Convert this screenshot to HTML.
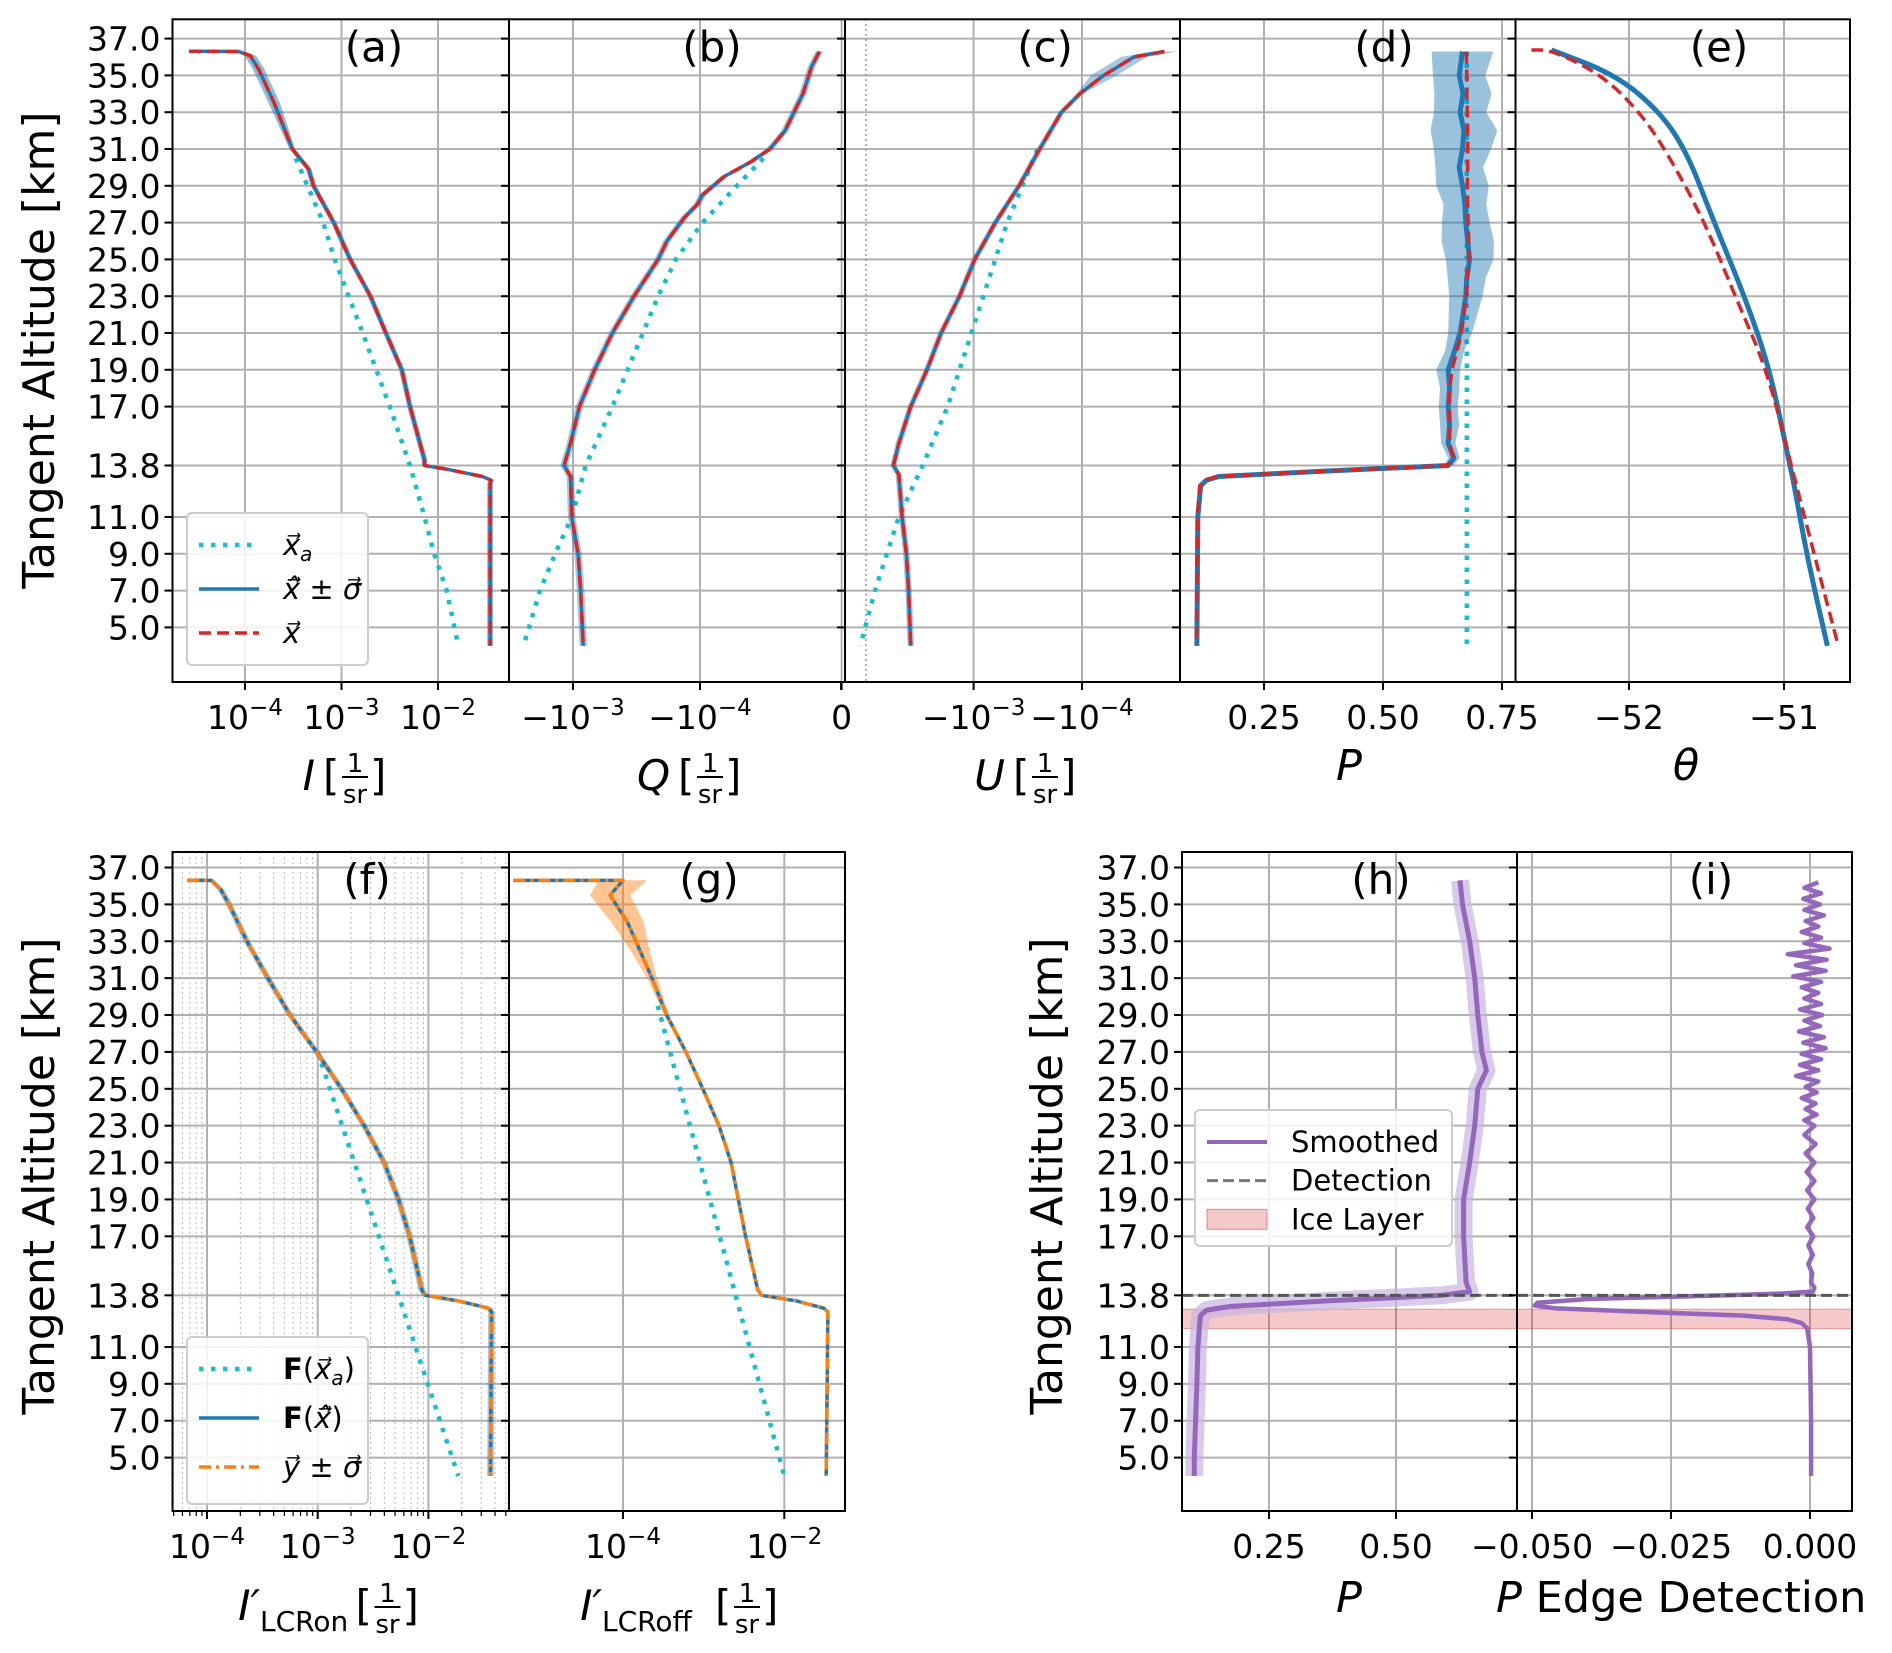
<!DOCTYPE html>
<html><head><meta charset="utf-8">
<style>
html,body{margin:0;padding:0;background:#fff;}
svg{display:block;font-family:"DejaVu Sans","Liberation Sans",sans-serif;}
</style></head>
<body>
<svg id="fig" width="1892" height="1653" viewBox="0 0 1892 1653" xmlns="http://www.w3.org/2000/svg"></svg>
<script>
// ---------- DATA ----------
const altTicks=[37,35,33,31,29,27,25,23,21,19,17,13.8,11,9,7,5];
// (a) log10 I
const aAlt=[36.31,36.3,36.07,35.35,33.54,31.0,29.9,29,27,25,23,21,19,17,14.1,13.8,13.6,13.2,13.0,12.8,4];
const aFit=[-4.58,-4.065,-3.945,-3.86,-3.70,-3.51,-3.34,-3.29,-3.08,-2.91,-2.70,-2.54,-2.375,-2.29,-2.14,-2.14,-1.91,-1.54,-1.45,-1.46,-1.46];
const aPriorAlt=[30.5,27,25,21,17,13.8,11,9,7,4];
const aPrior=[-3.475,-3.19,-3.07,-2.78,-2.50,-2.29,-2.14,-2.04,-1.91,-1.79];
// (b) log10 |Q| (Q negative)
const bAlt=[36.3,35.5,34,32,31,30.3,29.5,28.5,28,27.3,26,25,23,21,19,17,15,13.8,13.2,11,9,7,4];
const bFit=[-4.94,-4.88,-4.81,-4.67,-4.55,-4.40,-4.19,-4.02,-3.98,-3.88,-3.74,-3.67,-3.48,-3.31,-3.17,-3.05,-2.98,-2.93,-2.98,-2.99,-3.04,-3.06,-3.08];
const bPriorAlt=[30.5,29,27,25,23,21,19,17,13.8,11,9,7,4];
const bPrior=[-4.50,-4.29,-4.02,-3.81,-3.67,-3.55,-3.43,-3.31,-3.10,-2.99,-2.86,-2.74,-2.61];
// (c) log10 |U|
const cAlt=[36.3,36,35,34,33,31,29,27,25,23,21,19,17,15,13.8,13.3,11,9,7,4];
const cFit=[-4.76,-4.48,-4.20,-3.98,-3.81,-3.61,-3.42,-3.20,-3.01,-2.87,-2.70,-2.57,-2.42,-2.31,-2.26,-2.31,-2.34,-2.38,-2.40,-2.42];
const cPriorAlt=[31,27,25,21,17,13.8,11,9,7,4];
const cPrior=[-3.59,-3.31,-3.20,-2.98,-2.76,-2.53,-2.31,-2.20,-2.09,-1.955];
// (d) P
const dAlt=[36.3,35,34,33,32,31,30,29,28,27,26,25,24,23,22,21,20,19,18,17,16,15,14.2,13.8,13.5,13.2,13.0,12.7,11,4];
const dFit=[0.667,0.66,0.668,0.662,0.67,0.667,0.66,0.667,0.672,0.674,0.678,0.682,0.676,0.674,0.668,0.662,0.65,0.637,0.64,0.637,0.64,0.637,0.649,0.637,0.383,0.155,0.129,0.117,0.111,0.109];
const dRetr=[0.675,0.676,0.676,0.677,0.678,0.678,0.678,0.677,0.678,0.679,0.68,0.68,0.678,0.675,0.67,0.665,0.655,0.645,0.64,0.64,0.64,0.64,0.648,0.635,0.38,0.15,0.127,0.115,0.11,0.108];
const dErr=[0.065,0.055,0.06,0.055,0.07,0.06,0.05,0.055,0.045,0.05,0.055,0.05,0.04,0.035,0.03,0.025,0.02,0.025,0.02,0.02,0.02,0.015,0.012,0.01,0.005,0.003,0.002,0.002,0.002,0.002];
const dPrior=[0.676,0.676];
const dPriorAlt=[36.3,4];
// (e) theta
const eAlt=[36.38,35.05,33.1,30.9,27.0,22.9,19.0,13.7,13.0,8.8,4.0];
const eFit=[-52.50,-52.09,-51.81,-51.63,-51.45,-51.25,-51.09,-50.96,-50.94,-50.85,-50.72];
const eRetrAlt=[36.38,36.38,35.05,33.1,30.9,27.0,22.9,19.0,13.7,8.8,4.0];
const eRetr=[-52.63,-52.50,-52.18,-51.94,-51.76,-51.51,-51.31,-51.11,-50.95,-50.80,-50.65];
// (f) log10 I'_LCRon
const fAlt=[36.3,36.3,35.8,35,33,31,29,27,25,23,21,19,17,14.1,13.8,13.5,13.1,12.9,4];
const fFit=[-4.18,-3.96,-3.875,-3.80,-3.64,-3.45,-3.25,-3.01,-2.785,-2.58,-2.40,-2.27,-2.17,-2.06,-2.03,-1.73,-1.455,-1.43,-1.44];
const fPriorAlt=[27,4];
const fPrior=[-3.0,-1.73];
// (g) log10 I'_LCRoff
const gAlt=[36.3,36.3,35.5,34,32.5,31,29,27,25,23,21,19,17,14.1,13.8,13.5,13.1,12.9,4];
const gFit=[-5.36,-4.0,-4.16,-3.94,-3.79,-3.64,-3.46,-3.22,-3.01,-2.81,-2.66,-2.57,-2.48,-2.33,-2.28,-1.85,-1.51,-1.46,-1.48];
const gNoise=[0.0,0.3,0.25,0.2,0.12,0.06,0.03,0.02,0.02,0.02,0.02,0.02,0.02,0.02,0.02,0.02,0.02,0.02,0.02];
const gPriorAlt=[29.5,4];
const gPrior=[-3.57,-2.0];
// (h) P smoothed
const hAlt=[36.3,35,33,31,29,27,26,25,23,21,19,17,14.5,14.0,13.8,13.5,13.2,13.0,12.7,11,9,5,4];
const hVal=[0.626,0.631,0.645,0.655,0.661,0.669,0.678,0.661,0.655,0.645,0.633,0.633,0.638,0.645,0.590,0.365,0.175,0.127,0.115,0.110,0.108,0.103,0.103];
// (i) edge detection
const iNoiseAlt=[36.2,35.9,35.6,35.3,35.0,34.7,34.4,34.1,33.8,33.5,33.2,32.9,32.6,32.3,32.0,31.7,31.4,31.1,30.8,30.5,30.2,29.9,29.6,29.3,29.0,28.7,28.4,28.1,27.8,27.5,27.2,26.9,26.6,26.3,26.0,25.7,25.4,25.1,24.8,24.5,24.2,23.9,23.6,23.3,23.0,22.5,22.0,21.5,21.0,20.5,20.0,19.5,19.0,18.5,18.0,17.5,17.0,16.5,16.0,15.5,15.0,14.5];
const iNoiseVal=[1.5,-1,2,-1.2,1.8,-1,2.5,-0.8,1.5,-1.5,2,-1,3.5,-4,3,-2.5,2.8,-3,2,-1.5,1.5,-1,2,-1.8,2.2,-1,1.8,-2,2.5,-1.2,2.8,-1.5,2,-1.8,1.5,-2.5,1.5,-0.8,1.2,-1.5,1,-0.8,1.2,-1,0.8,-1,1,-0.8,0.8,-0.6,0.8,-0.5,0.8,-0.4,0.6,-0.5,0.6,-0.3,0.5,-0.3,0.4,0.2];
const iEdgeAlt=[14.2,14.0,13.9,13.8,13.6,13.4,13.25,13.1,12.9,12.7,12.5,12.3,12.0,11,7,4];
const iEdgeVal=[0.0008,0.0005,-0.005,-0.015,-0.04,-0.049,-0.0495,-0.046,-0.03,-0.012,-0.004,-0.0015,-0.0005,0,0.0002,0.0002];
const detectionAlt=13.8;
const iceLayer=[12.0,13.05];

// ---------- HELPERS ----------
const NS="http://www.w3.org/2000/svg";
const svg=document.getElementById('fig');
function el(tag,attrs,parent){const e=document.createElementNS(NS,tag);for(const k in attrs)e.setAttribute(k,attrs[k]);(parent||svg).appendChild(e);return e;}
const rows={top:{y37:38.6,y5:627.4,t:19.3,b:682},bot:{y37:867.5,y5:1457.6,t:852,b:1511}};
function yS(row,a){const r=rows[row];return r.y5-(a-5)*(r.y5-r.y37)/32;}
const C={blue:'#1f77b4',red:'#d62728',cyan:'#17becf',orange:'#ff7f0e',purple:'#9467bd',grid:'#b0b0b0'};
const TF=33;

function makePanel(p){
  const r=rows[p.row];
  const g=el('g',{});
  
  
  const clipId='clip-'+p.id;
  const cp=el('clipPath',{id:clipId},g);el('rect',{x:p.x0,y:r.t,width:p.x1-p.x0,height:r.b-r.t},cp);
  (p.minor||[]).forEach(v=>{const X=p.xm(v);if(X>p.x0&&X<p.x1){const l=el('line',{x1:X,x2:X,y1:r.t,y2:r.b,stroke:'#b8b8b8','stroke-width':1,'stroke-dasharray':'2,3'},g);}});
  altTicks.forEach(a=>{const y=yS(p.row,a);const l=el('line',{x1:p.x0,x2:p.x1,y1:y,y2:y,stroke:C.grid,'stroke-width':2},g);});
  p.ticks.forEach(t=>{const X=p.xm(t.v);if(X>=p.x0-1&&X<=p.x1+1){const l=el('line',{x1:X,x2:X,y1:r.t,y2:r.b,stroke:C.grid,'stroke-width':2},g);}});
  const plot=el('g',{'clip-path':'url(#'+clipId+')'},g);
  p.draw(plot,(a)=>yS(p.row,a));
  const fr=el('rect',{x:p.x0,y:r.t,width:p.x1-p.x0,height:r.b-r.t,fill:'none',stroke:'#000','stroke-width':2},g);
  
  altTicks.forEach(a=>{const y=yS(p.row,a);el('line',{x1:p.x0-8,x2:p.x0,y1:y,y2:y,stroke:'#000','stroke-width':2},g);
    if(p.ylabels){const t=el('text',{x:p.x0-12,y:y+12,'text-anchor':'end','font-size':TF,fill:'#000'},g);t.textContent=a.toFixed(1);}});
  const ty=r.b+47;
  p.ticks.forEach(t=>{const X=p.xm(t.v);el('line',{x1:X,x2:X,y1:r.b,y2:r.b+8,stroke:'#000','stroke-width':2},g);
    const tx=el('text',{x:X+(t.dx||0),y:ty,'text-anchor':'middle','font-size':TF,fill:'#000'},g);
    
    tx.textContent=t.base;
    if(t.sup){const s=el('tspan',{dy:-14,'font-size':23},tx);s.textContent=t.sup;}
  });
  (p.minorTicks||[]).forEach(v=>{const X=p.xm(v);if(X>p.x0&&X<p.x1)el('line',{x1:X,x2:X,y1:r.b,y2:r.b+5,stroke:'#000','stroke-width':1.2},g);});
  const pl=el('text',{x:p.lx,y:r.t+42,'text-anchor':'middle','font-size':42,fill:'#000'},g);pl.textContent='('+p.id+')';
  
  return g;
}
function path(parent,xs,ys,attrs,name){let d='';for(let i=0;i<xs.length;i++)d+=(i?'L':'M')+xs[i].toFixed(1)+','+ys[i].toFixed(1);const e=el('path',Object.assign({d:d,fill:'none','stroke-linejoin':'round'},attrs),parent);return e;}
function line(parent,alts,vals,xm,ym,attrs,name){return path(parent,vals.map(xm),alts.map(ym),attrs,name);}
function band(parent,alts,lo,hi,xm,ym,attrs,name){let d='';for(let i=0;i<alts.length;i++)d+=(i?'L':'M')+xm(lo[i]).toFixed(1)+','+ym(alts[i]).toFixed(1);for(let i=alts.length-1;i>=0;i--)d+='L'+xm(hi[i]).toFixed(1)+','+ym(alts[i]).toFixed(1);d+='Z';const e=el('path',Object.assign({d:d},attrs),parent);return e;}
const DOT={stroke:C.cyan,'stroke-width':4.5,'stroke-dasharray':'4.5,7.5'};
const SOL={stroke:C.blue,'stroke-width':3.5};
const DASH={stroke:C.red,'stroke-width':3.5,'stroke-dasharray':'12,6'};
const DD={stroke:C.orange,'stroke-width':3.5,'stroke-dasharray':'12,5,3,5'};
function logTicks(list){return list.map(e=>({v:e,base:'10',sup:'−'+(-e)}));}

// ---------- PANELS ----------
const xa=e=>245+(e+4)*96.5;
makePanel({id:'a',row:'top',x0:172.5,x1:509,lx:374,ylabels:true,xm:xa,ticks:logTicks([-4,-3,-2]),
 draw:(g,ym)=>{line(g,aPriorAlt,aPrior,xa,ym,DOT,'prior-line');
  band(g,aAlt,aFit.map((v,i)=>v-(aAlt[i]>33?0.06:0.03)),aFit.map((v,i)=>v+(aAlt[i]>33?0.06:0.03)),xa,ym,{fill:C.blue,opacity:0.5},'error-band');
  line(g,aAlt,aFit,xa,ym,SOL,'retrieved-line');line(g,aAlt,aFit,xa,ym,DASH,'true-line');}});
const xb=e=>573+(-3-e)*127;
makePanel({id:'b',row:'top',x0:509,x1:845,lx:712,xm:xb,
 ticks:[{v:-3,base:'−10',sup:'−3'},{v:-4,base:'−10',sup:'−4'},{v:-5.115,base:'0',dx:0}],
 draw:(g,ym)=>{line(g,bPriorAlt,bPrior,xb,ym,DOT,'prior-line');
  band(g,bAlt,bFit.map(v=>v-0.03),bFit.map(v=>v+0.03),xb,ym,{fill:C.blue,opacity:0.4},'error-band');
  line(g,bAlt,bFit,xb,ym,SOL,'retrieved-line');line(g,bAlt,bFit,xb,ym,DASH,'true-line');}});
const xc=e=>973.6+(-3-e)*108.4;
makePanel({id:'c',row:'top',x0:845,x1:1180,lx:1045,xm:xc,
 ticks:[{v:-3,base:'−10',sup:'−3'},{v:-4,base:'−10',sup:'−4'}],
 draw:(g,ym)=>{const z=el('line',{x1:866,x2:866,y1:19,y2:682,stroke:'#999','stroke-width':1.5,'stroke-dasharray':'2,3'},g);
  line(g,cPriorAlt,cPrior,xc,ym,DOT,'prior-line');
  band(g,cAlt,cFit.map((v,i)=>v-(cAlt[i]>34?0.12:0.03)),cFit.map((v,i)=>v+(cAlt[i]>34?0.12:0.03)),xc,ym,{fill:C.blue,opacity:0.4},'error-band');
  line(g,cAlt,cFit,xc,ym,SOL,'retrieved-line');line(g,cAlt,cFit,xc,ym,DASH,'true-line');}});
el('line',{x1:841,x2:841,y1:682,y2:690,stroke:'#000','stroke-width':2});
const xd=p=>1264+(p-0.25)*476;
makePanel({id:'d',row:'top',x0:1180,x1:1515.5,lx:1384,xm:xd,
 ticks:[{v:0.25,base:'0.25'},{v:0.5,base:'0.50'},{v:0.75,base:'0.75'}],
 draw:(g,ym)=>{line(g,dPriorAlt,dPrior,xd,ym,DOT,'prior-line');
  band(g,dAlt,dFit.map((v,i)=>v-dErr[i]),dFit.map((v,i)=>v+dErr[i]),xd,ym,{fill:C.blue,opacity:0.45},'error-band');
  line(g,dAlt,dFit,xd,ym,{stroke:C.blue,'stroke-width':5},'retrieved-line');line(g,dAlt,dRetr,xd,ym,DASH,'true-line');}});
const xe=t=>1629+(t+52)*155;
makePanel({id:'e',row:'top',x0:1515.5,x1:1850,lx:1719,xm:xe,
 ticks:[{v:-52,base:'−52'},{v:-51,base:'−51'}],
 draw:(g,ym)=>{
  const sm=(alts,vals)=>{const xs=vals.map(xe),ys=alts.map(ym);let d='M'+xs[0]+','+ys[0];for(let i=1;i<xs.length;i++){const mx=(xs[i-1]+xs[i])/2,my=(ys[i-1]+ys[i])/2;d+='Q'+xs[i-1]+','+ys[i-1]+' '+mx+','+my;}d+='L'+xs[xs.length-1]+','+ys[ys.length-1];return d;};
  const b=el('path',{d:sm(eAlt,eFit),fill:'none',stroke:C.blue,'stroke-width':5},g);
  const rr=el('path',Object.assign({d:sm(eRetrAlt,eRetr),fill:'none'},DASH),g);}});

const xf=e=>207+(e+4)*110.7;
const fMinor=[];for(let d=-5;d<=-1;d++)for(let k=2;k<=9;k++)fMinor.push(d+Math.log10(k));
makePanel({id:'f',row:'bot',x0:172.5,x1:509,lx:367,ylabels:true,xm:xf,minor:fMinor,minorTicks:fMinor,ticks:logTicks([-4,-3,-2]),
 draw:(g,ym)=>{line(g,fPriorAlt,fPrior,xf,ym,DOT,'prior-line');
  band(g,fAlt,fFit.map(v=>v-0.03),fFit.map(v=>v+0.03),xf,ym,{fill:C.blue,opacity:0.4},'error-band');
  line(g,fAlt,fFit,xf,ym,SOL,'forward-line');line(g,fAlt,fFit,xf,ym,DD,'measurement-line');}});
const xg=e=>623+(e+4)*80.65;
makePanel({id:'g',row:'bot',x0:509,x1:845,lx:709,xm:xg,ticks:logTicks([-4,-2]),
 draw:(g,ym)=>{line(g,gPriorAlt,gPrior,xg,ym,DOT,'prior-line');
  band(g,gAlt,gFit.map((v,i)=>v-gNoise[i]),gFit.map((v,i)=>v+gNoise[i]),xg,ym,{fill:C.orange,opacity:0.45},'error-band');
  line(g,gAlt,gFit,xg,ym,SOL,'forward-line');line(g,gAlt,gFit,xg,ym,DD,'measurement-line');}});
const xh=p=>1269+(p-0.25)*508;
makePanel({id:'h',row:'bot',x0:1182,x1:1517,lx:1381,ylabels:true,xm:xh,ticks:[{v:0.25,base:'0.25'},{v:0.5,base:'0.50'}],
 draw:(g,ym)=>{
  const ice=el('rect',{x:1182,y:ym(iceLayer[1]),width:335,height:ym(iceLayer[0])-ym(iceLayer[1]),fill:'rgba(214,39,40,0.25)',stroke:'rgba(214,39,40,0.4)'},g);
  line(g,hAlt,hVal,xh,ym,{stroke:'#c7b3e0','stroke-width':18,opacity:0.7},'raw-scatter');
  line(g,hAlt,hVal,xh,ym,{stroke:C.purple,'stroke-width':5},'smoothed-line');
  const dl=el('line',{x1:1182,x2:1517,y1:ym(detectionAlt),y2:ym(detectionAlt),stroke:'#555','stroke-width':3,'stroke-dasharray':'11,5'},g);}});
const xi=v=>1810+v*5560;
makePanel({id:'i',row:'bot',x0:1517,x1:1852,lx:1711,xm:xi,ticks:[{v:-0.05,base:'−0.050'},{v:-0.025,base:'−0.025'},{v:0,base:'0.000'}],
 draw:(g,ym)=>{
  const ice=el('rect',{x:1517,y:ym(iceLayer[1]),width:335,height:ym(iceLayer[0])-ym(iceLayer[1]),fill:'rgba(214,39,40,0.25)',stroke:'rgba(214,39,40,0.4)'},g);
  line(g,iNoiseAlt.concat(iEdgeAlt),iNoiseVal.map(v=>v*0.001).concat(iEdgeVal),xi,ym,{stroke:C.purple,'stroke-width':4.5},'edge-line');
  const dl=el('line',{x1:1517,x2:1852,y1:ym(detectionAlt),y2:ym(detectionAlt),stroke:'#555','stroke-width':3,'stroke-dasharray':'11,5'},g);}});

// ---------- AXIS TITLES ----------
function ytitle(x,y,name){const t=el('text',{x:x,y:y,transform:'rotate(-90 '+x+' '+y+')','text-anchor':'middle','font-size':44,fill:'#000'});t.textContent='Tangent Altitude [km]';}
ytitle(54,350,'y-axis-title-top');ytitle(54,1176,'y-axis-title-bottom-left');ytitle(1062,1176,'y-axis-title-bottom-right');
function fracTitle(cx,y,sym,sub,name){const g=el('g',{});
  const t=el('text',{x:cx-30,y:y,'text-anchor':'end','font-size':42,'font-style':'italic'},g);t.textContent=sym;
  let off=cx-30;
  if(sub){const s=el('text',{x:off,y:y+11,'font-size':28},g);s.textContent=sub;off+=sub.length*17.5;}
  const b=el('text',{x:off+8,y:y,'font-size':42},g);b.textContent='[';
  el('line',{x1:off+27,x2:off+53,y1:y-13,y2:y-13,stroke:'#000','stroke-width':2},g);
  const n=el('text',{x:off+40,y:y-18,'font-size':26,'text-anchor':'middle'},g);n.textContent='1';
  const d=el('text',{x:off+40,y:y+13,'font-size':26,'text-anchor':'middle'},g);d.textContent='sr';
  const b2=el('text',{x:off+55,y:y,'font-size':42},g);b2.textContent=']';}
fracTitle(345,790,'I',null,'x-axis-title-a');
fracTitle(700,790,"Q",null,'x-axis-title-b');
fracTitle(1035,790,"U",null,'x-axis-title-c');
fracTitle(290,1620,"I′",'LCRon','x-axis-title-f');
fracTitle(632,1620,"I′",'LCRoff','x-axis-title-g');
function plain(x,y,txt,name,italic){const t=el('text',{x:x,y:y,'text-anchor':'middle','font-size':43,'font-style':italic?'italic':'normal'});t.textContent=txt;return t;}
plain(1349,780,'P','x-axis-title-d',true);
plain(1686,780,'θ','x-axis-title-e',true);
plain(1349,1612,'P','x-axis-title-h',true);
{const t=el('text',{x:1496,y:1612,'font-size':43});
 const a=el('tspan',{'font-style':'italic'},t);a.textContent='P';const b=el('tspan',{},t);b.textContent=' Edge Detection';}

// ---------- LEGENDS ----------
function legend(x,y,w,h,items,name,fs){const g=el('g',{});
  el('rect',{x:x,y:y,width:w,height:h,rx:5,fill:'rgba(255,255,255,0.85)',stroke:'#ccc','stroke-width':2},g);
  items.forEach((it,i)=>{const yy=y+32+i*(h-20)/items.length;
    if(it.rect){el('rect',{x:x+12,y:yy-10,width:60,height:20,fill:'rgba(214,39,40,0.25)',stroke:'rgba(214,39,40,0.5)'},g);}
    else el('line',Object.assign({x1:x+12,x2:x+72,y1:yy,y2:yy},it.st),g);
    const t=el('text',{x:x+96,y:yy+10,'font-size':fs||29},g);
    it.parts.forEach(p=>{const s=el('tspan',p.a||{},t);s.textContent=p.t;});});}
legend(187,513,181,152,[
 {st:DOT,parts:[{t:'x⃗',a:{'font-style':'italic'}},{t:'a',a:{'font-style':'italic','font-size':20,dy:6}}]},
 {st:SOL,parts:[{t:'x̂⃗',a:{'font-style':'italic'}},{t:' ± '},{t:'σ⃗',a:{'font-style':'italic'}}]},
 {st:DASH,parts:[{t:'x⃗',a:{'font-style':'italic'}}]}],'legend-top');
legend(187,1337,181,167,[
 {st:DOT,parts:[{t:'F',a:{'font-weight':'bold'}},{t:'('},{t:'x⃗',a:{'font-style':'italic'}},{t:'a',a:{'font-style':'italic','font-size':20,dy:6}},{t:')',a:{dy:-6}}]},
 {st:SOL,parts:[{t:'F',a:{'font-weight':'bold'}},{t:'('},{t:'x̂⃗',a:{'font-style':'italic'}},{t:')'}]},
 {st:DD,parts:[{t:'y⃗',a:{'font-style':'italic'}},{t:' ± '},{t:'σ⃗',a:{'font-style':'italic'}}]}],'legend-bottom-left');
legend(1195,1110,257,136,[
 {st:{stroke:C.purple,'stroke-width':4},parts:[{t:'Smoothed'}]},
 {st:{stroke:'#777','stroke-width':3,'stroke-dasharray':'11,5'},parts:[{t:'Detection'}]},
 {rect:true,parts:[{t:'Ice Layer'}]}],'legend-bottom-right');
</script>
</body></html>
